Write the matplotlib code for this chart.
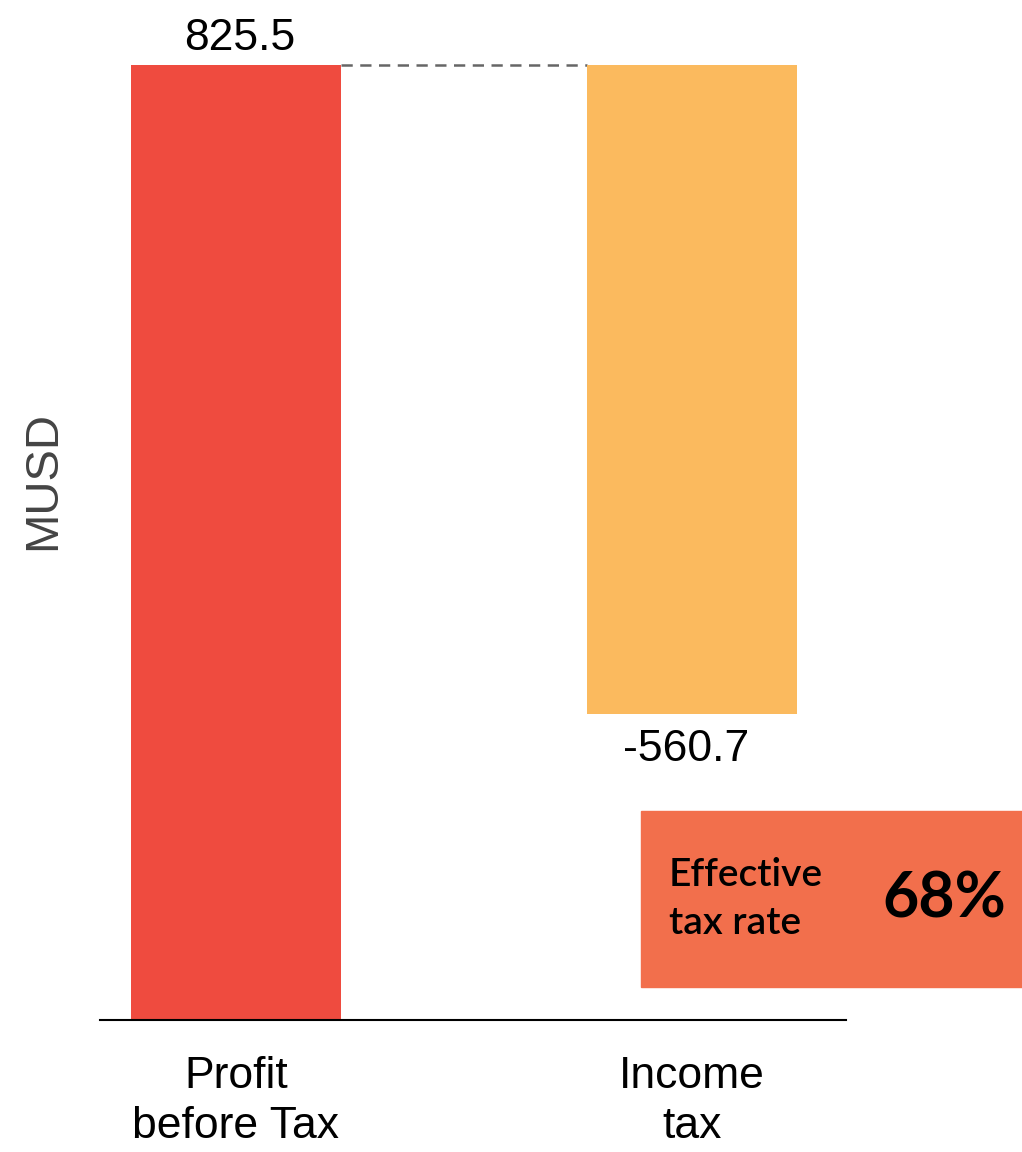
import matplotlib
matplotlib.use('Agg')
import matplotlib.pyplot as plt
from matplotlib.patches import Rectangle

# Waterfall: profit before tax, then income tax taken off it
categories = ['Profit\nbefore Tax', 'Income\ntax']
values = [825.5, -560.7]
value_labels = ['825.5', '-560.7']
tax_rate_label = '68%'
colors = ['#EF4B3F', '#FBBA5E']

W, H = 1022, 1152
fig = plt.figure(figsize=(W / 100, H / 100), dpi=100)

# axes placed in pixels: baseline at y=1020, x from 100 to 846
px_per_unit = 955 / values[0]
ax_h = 1000
ax = fig.add_axes([100 / W, (H - 1020) / H, 746 / W, ax_h / H])
ax.set_ylim(0, ax_h / px_per_unit)
ax.set_xlim(-136 / 456, 610 / 456)

bar_w = 210 / 456
starts = [0, values[0]]
for i, (v, b, c) in enumerate(zip(values, starts, colors)):
    ax.bar(i, v, bottom=b, width=bar_w, color=c, zorder=2)

# dashed connector between the two bars
ax.plot([0 + bar_w / 2, 1 - bar_w / 2], [values[0], values[0]],
        color='#666666', lw=1.8, dashes=(4.5, 3), zorder=1)

lab_font = dict(family='Liberation Sans', fontsize=32, color='black')
ax.annotate(value_labels[0], (0, values[0]), xytext=(3, 11),
            textcoords='offset points', ha='center', va='baseline', **lab_font)
ax.annotate(value_labels[1], (1, values[0] + values[1]), xytext=(-4, -11),
            textcoords='offset points', ha='center', va='top', **lab_font)

ax.set_xticks(range(len(categories)))
ax.set_xticklabels(categories, linespacing=1.28, **lab_font)
ax.tick_params(axis='x', length=0, pad=26)
ax.set_yticks([])
for s in ['top', 'right', 'left']:
    ax.spines[s].set_visible(False)
ax.spines['bottom'].set_linewidth(1.5)
ax.spines['bottom'].set_zorder(3)

fig.text(43 / W, 1 - 480 / H, 'MUSD', rotation=90, ha='center', va='center',
         family='Liberation Sans', fontsize=34, color='#444444')

# effective tax rate callout
fig.patches.append(Rectangle((641 / W, (H - 987) / H), 381 / W, 176 / H,
                             transform=fig.transFigure, color='#F26F4C', zorder=0))
fig.text(669 / W, 1 - 899 / H, 'Effective\ntax rate', ha='left', va='center',
         family='Lato', fontsize=28, fontweight='semibold', color='black',
         linespacing=1.42)
fig.text(944 / W, 1 - 899 / H, tax_rate_label, ha='center', va='center',
         family='Lato', fontsize=45, fontweight='bold', color='black')

fig.savefig('out.png', dpi=100)
